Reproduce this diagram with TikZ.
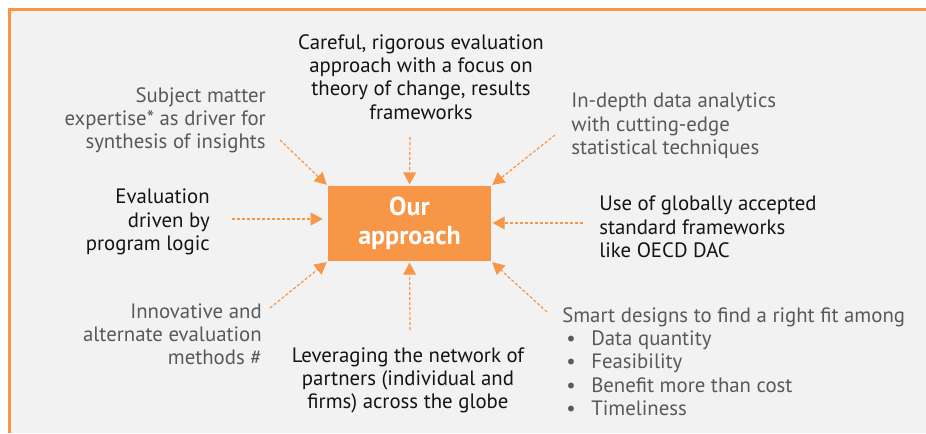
\documentclass[tikz,border=0pt]{standalone}
\usepackage{fontspec}
\setmainfont{PT Sans}
\usetikzlibrary{arrows.meta}

\definecolor{accent}{HTML}{F79646}
\definecolor{panel}{HTML}{F2F2F2}
\definecolor{ink}{HTML}{141414}
\definecolor{mute}{HTML}{595959}

\tikzset{
  feed/.style={draw=accent, line width=0.9pt, dash pattern=on 2.25pt off 1.5pt,
    -{Triangle[length=9pt,width=9.5pt]}, shorten >=1pt},
  say/.style={inner sep=0pt, font=\fontsize{15.6}{17.5}\selectfont, text=ink},
  saygray/.style={say, text=mute},
}
\newcommand{\pt}{\makebox[18.75pt][l]{\textbullet}}

\begin{document}
\begin{tikzpicture}[x=0.75pt,y=-0.75pt]
   \useasboundingbox (0,0) rectangle (926,433);
   \fill[panel] (9,9) rectangle (926,433);
   \draw[accent, line width=2.25pt] (9,433) -- (9,9) -- (926,9);

   % centre box
   \node[fill=accent, minimum width=122.25pt, minimum height=56.25pt, text=white,
     font=\bfseries\fontsize{19.5}{22}\selectfont, align=center] (hub) at (409.5,223.5) {Our\\approach};

   % texts around it
   \node[say, align=center, anchor=north] (rigour) at (421,34) {Careful, rigorous evaluation\\approach with a focus on\\theory of change, results\\frameworks};
   \node[saygray, align=right, anchor=north east] (expert) at (266,87) {Subject matter\\expertise* as driver for\\synthesis of insights};
   \node[saygray, align=left, anchor=north west] (analytics) at (571,93) {In-depth data analytics\\with cutting-edge\\statistical techniques};
   \node[say, align=right, anchor=north east] (logic) at (210,189) {Evaluation\\driven by\\program logic};
   \node[say, align=left, anchor=north west] (oecd) at (599,196) {Use of globally accepted\\standard frameworks\\like OECD DAC};
   \node[saygray, align=right, anchor=north east] (novel) at (262,303) {Innovative and\\alternate evaluation\\methods \#};
   \node[say, align=center, anchor=north] (network) at (408,347) {Leveraging the network of\\partners (individual and\\firms) across the globe};
   \node[saygray, align=left, anchor=north west] (smart) at (562,307) {Smart designs to find a right fit among\\
     \hspace*{3pt}\pt Data quantity\\\hspace*{3pt}\pt Feasibility\\\hspace*{3pt}\pt Benefit more than cost\\\hspace*{3pt}\pt Timeliness};

   % arrows into the box
   \coordinate (fromTop) at (410,137);
   \coordinate (fromTopL) at (280,140);
   \coordinate (fromTopR) at (555,135);
   \coordinate (fromLeft) at (232,219);
   \coordinate (fromRight) at (583,223);
   \coordinate (fromBotL) at (270,308);
   \coordinate (fromBot) at (410,330);
   \coordinate (fromBotR) at (547,312);
   \draw[feed] (fromTop) -- (hub.north);
   \draw[feed] (fromTopL) -- (hub.north west);
   \draw[feed] (fromTopR) -- (hub.north east);
   \draw[feed, shorten >=3.75pt] (fromLeft) -- (fromLeft -| hub.west);
   \draw[feed] (fromRight) -- (fromRight -| hub.east);
   \draw[feed] (fromBotL) -- (hub.south west);
   \draw[feed] (fromBot) -- (hub.south);
   \draw[feed] (fromBotR) -- (hub.south east);
\end{tikzpicture}
\end{document}
